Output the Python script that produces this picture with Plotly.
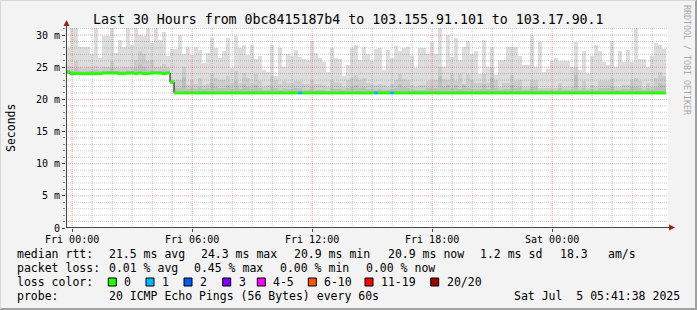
import plotly.graph_objects as go
import pandas as pd
import numpy as np

# ---------------- data ----------------
START = "2025-07-03 23:41:38"   # first 12-minute bin
BIN_MIN = 12

# upper edge of the outer (lightest) smoke band, ms
SMOKE_TOP = [
    28.0, 31.1, 31.1, 28.2, 28.2, 28.2, 27.0, 31.1, 26.5, 29.9,
    29.9, 31.2, 27.2, 29.3, 28.1, 31.1, 28.5, 31.1, 30.0, 29.8,
    31.1, 28.7, 31.1, 29.3, 30.5, 26.7, 27.9, 27.8, 30.0, 27.0,
    28.2, 26.9, 28.1, 27.7, 25.6, 27.2, 29.5, 28.0,
    26.4, 27.5, 29.6, 24.9, 29.8, 28.0, 28.4, 26.9, 28.5, 26.3,
    26.8, 24.6, 24.3, 28.5, 23.6, 28.0, 25.0, 27.0, 26.8, 27.7,
    26.6, 26.3, 26.0, 29.1, 27.2, 26.4, 25.8, 24.3, 28.0, 26.4,
    26.3, 23.6, 25.4, 28.0, 28.4, 26.2, 28.2,
    27.0, 26.0, 27.9, 28.0, 24.6, 27.7, 26.4, 28.3, 27.6, 28.0,
    28.1, 26.8, 24.9, 28.0, 28.0, 27.0, 28.9, 27.0, 31.1, 25.0,
    30.0, 26.6, 29.5, 26.2, 28.2, 29.1, 27.0, 27.6, 23.9, 29.3,
    25.0, 28.2, 23.8, 26.2, 26.2, 28.2, 28.2,
    28.2, 26.7, 25.3, 25.4, 29.8, 25.0, 29.0, 24.2, 24.8, 26.0,
    26.5, 26.0, 26.0, 26.0, 25.0, 28.9, 24.6, 27.5, 23.9, 26.8,
    28.4, 27.5, 25.8, 25.4, 29.1, 25.1, 27.5, 25.8, 27.7, 25.8,
    31.2, 26.3, 26.3, 25.1, 26.8, 28.8, 28.4, 27.9,
]
# upper edge of the middle smoke band, ms
SMOKE_MID = [
    25.2, 25.0, 26.0, 25.0, 24.9, 25.0, 25.0, 25.2, 24.9, 25.0,
    25.0, 26.0, 25.0, 24.9, 25.0, 25.1, 25.0, 26.2, 27.5, 27.0,
    26.0, 26.2, 25.0, 25.0, 25.5, 25.0, 23.0,
    23.0, 23.0, 25.1, 22.3, 23.0, 22.4, 23.3, 22.3, 22.4, 23.9, 23.3,
    23.0, 23.0, 23.7, 22.6, 24.4, 22.5, 24.1, 23.3, 22.5, 23.9,
    22.9, 22.0, 22.3, 23.6, 23.0, 22.4, 22.9, 22.5, 22.5, 22.9,
    22.9, 22.4, 22.4, 23.0, 22.4, 22.4, 22.3, 21.9, 23.0, 22.7,
    22.6, 22.0, 23.0, 23.3, 23.8, 23.0, 23.4,
    22.5, 22.4, 22.3, 22.4, 22.2, 22.0, 22.4, 23.0, 24.0, 23.2,
    23.0, 22.3, 22.0, 22.3, 22.3, 22.9, 23.0, 23.0, 25.0, 23.2,
    23.0, 23.9, 22.8, 23.9, 22.4, 23.9, 23.0, 22.6, 22.6, 24.0,
    22.6, 25.0, 23.0, 22.0, 22.6, 22.6, 23.8,
    22.8, 23.05, 22.0, 22.0, 23.0, 23.0, 21.8, 21.8, 21.8, 21.8,
    21.8, 22.5, 21.9, 21.9, 21.9, 25.1, 22.0, 22.9, 21.8, 22.3,
    22.0, 22.8, 22.8, 22.8, 23.3, 21.9, 21.9, 22.3, 22.3, 23.0,
    23.3, 22.8, 22.0, 22.5, 22.0, 23.3, 24.3, 23.6,
]
# upper edge of the inner (darkest) smoke band, ms
SMOKE_DARK = [
    24.5, 24.4, 24.9, 24.4, 24.4, 24.4, 24.4, 24.5, 24.4, 24.4,
    24.4, 24.9, 24.4, 24.4, 24.4, 24.4, 24.4, 24.9, 25.3, 25.0,
    24.6, 24.6, 24.4, 24.4, 24.6, 24.4, 22.8,
    21.8, 21.7, 23.5, 21.6, 21.8, 21.6, 22.0, 21.6, 21.7, 22.6, 22.0,
    21.8, 21.7, 22.2, 21.6, 22.8, 21.6, 22.4, 21.9, 21.6, 22.3,
    21.8, 21.4, 21.5, 22.0, 21.8, 21.5, 21.7, 21.6, 21.6, 21.8,
    21.7, 21.5, 21.5, 21.9, 21.5, 21.5, 21.5, 21.3, 21.8, 21.6,
    21.6, 21.4, 21.8, 22.0, 22.2, 21.8, 22.0,
    21.6, 21.6, 21.5, 21.6, 21.5, 21.4, 21.6, 21.8, 22.4, 21.9,
    21.8, 21.5, 21.4, 21.5, 21.5, 21.8, 21.8, 21.8, 23.6, 21.9,
    22.3, 21.7, 22.3, 21.6, 22.3, 21.8, 21.6, 21.6, 21.6, 22.4,
    21.6, 23.4, 21.8, 21.4, 21.6, 21.6, 22.2,
    21.8, 22.0, 21.5, 21.5, 22.0, 22.0, 21.4, 21.4, 21.4, 21.4,
    21.4, 21.7, 21.4, 21.4, 21.4, 23.8, 21.5, 21.8, 21.4, 21.6,
    21.5, 21.8, 21.8, 21.8, 22.0, 21.4, 21.4, 21.6, 21.6, 21.9,
    22.0, 21.8, 21.5, 21.7, 21.5, 22.0, 22.6, 22.2,
]
# lower edge of the smoke (fastest ping), ms
SMOKE_LOW = [23.9] * 26 + [22.4] + [20.8] * 123
# median rtt, ms
MEDIAN = [
    24.3, 24.0, 24.0, 24.0, 24.0, 24.0, 24.0, 24.0, 24.0, 24.1,
    24.1, 24.1, 24.1, 24.0, 24.0, 24.1, 24.1, 24.0, 24.1, 24.0,
    24.0, 24.1, 24.1, 24.1, 24.0, 24.1, 22.7,
] + [21.0] * 123
# lost pings per bin (of 20)
LOSS = [0] * 150
for _i in (58, 77, 81):
    LOSS[_i] = 1

Y_TICKS = [0, 5, 10, 15, 20, 25, 30]
Y_TICKTEXT = ["0", "5 m", "10 m", "15 m", "20 m", "25 m", "30 m"]
Y_MAX = 31.1

LOSS_LABELS = ["0", "1", "2", "3", "4-5", "6-10", "11-19", "20/20"]
LOSS_COLORS = ["#26ff00", "#00b8ff", "#0059ff", "#7e00ff", "#ff00ff",
               "#ff5500", "#ff0000", "#a10000"]

TITLE = "Last 30 Hours from 0bc8415187b4 to 103.155.91.101 to 103.17.90.1"
RTT_ROW = [("median rtt:", 16), ("21.5 ms avg", 107.5), ("24.3 ms max", 200),
           ("20.9 ms min", 293), ("20.9 ms now", 386.5), ("1.2 ms sd", 479),
           ("18.3", 559), ("am/s", 607)]
LOSS_ROW = [("packet loss:", 16), ("0.01 % avg", 107.5), ("0.45 % max", 193),
            ("0.00 % min", 279), ("0.00 % now", 365)]
PROBE_ROW = [("probe:", 16), ("20 ICMP Echo Pings (56 Bytes) every 60s", 107.5),
             ("Sat Jul  5 05:41:38 2025", 513)]

# ---------------- layout geometry ----------------
W, H = 697, 310
L, R, T, B = 66, 29, 28, 82
PW, PH = W - L - R, H - T - B
PB = T + PH


def px(x):
    return (x - L) / PW


def py(y):
    return (PB - y) / PH


MONO = "DejaVu Sans Mono"
NB = "\u00a0"

start = pd.Timestamp(START)
step = pd.Timedelta(minutes=BIN_MIN)
n = len(SMOKE_TOP)
edges = [start + step * i for i in range(n + 1)]
centers = [start + step * i + step / 2 for i in range(n)]
x0 = start
x1 = start + pd.Timedelta(minutes=3 * PW)

fig = go.Figure()

low = np.array(SMOKE_LOW)
for arr, col in ((SMOKE_TOP, "#dddddd"), (SMOKE_MID, "#cdcdcd"), (SMOKE_DARK, "#bfbfbf")):
    fig.add_trace(go.Bar(
        x=centers, y=np.array(arr) - low, base=low,
        width=BIN_MIN * 60 * 1000, marker=dict(color=col, line=dict(width=0)),
        hoverinfo="skip", showlegend=False))

# grid lines (drawn as scatter so they sit over the smoke, under the median)
hours = pd.date_range("2025-07-04 00:00", x1, freq="1h")
for major in (False, True):
    gx, gy = [], []
    for h in hours:
        if (h.hour % 6 == 0) == major:
            gx += [h, h, None]
            gy += [0, Y_MAX, None]
    for v in range(1, int(Y_MAX) + 1):
        if (v % 5 == 0) == major:
            gx += [x0, x1, None]
            gy += [v, v, None]
    fig.add_trace(go.Scatter(
        x=gx, y=gy, mode="lines", hoverinfo="skip", showlegend=False,
        line=dict(color="rgba(255,40,40,0.42)" if major else "rgba(0,0,0,0.2)",
                  width=1, dash="1px,1px")))

# median: black stepped line + loss-coloured horizontal pieces
fig.add_trace(go.Scatter(
    x=edges, y=MEDIAN + [MEDIAN[-1]], mode="lines", line=dict(color="#000000", width=1,
                                                              shape="hv"),
    hoverinfo="skip", showlegend=False))


def bucket(l):
    if l == 0:
        return 0
    if l <= 3:
        return l
    if l <= 5:
        return 4
    if l <= 10:
        return 5
    if l <= 19:
        return 6
    return 7


for b, col in enumerate(LOSS_COLORS):
    sx, sy = [], []
    for i in range(n):
        if bucket(LOSS[i]) == b:
            sx += [edges[i], edges[i + 1], None]
            sy += [MEDIAN[i], MEDIAN[i], None]
    if sx:
        fig.add_trace(go.Scatter(x=sx, y=sy, mode="lines",
                                 line=dict(color=col, width=3),
                                 hoverinfo="skip", showlegend=False))

shapes = []
AX = "#444444"
ARROW = "#9c2020"
# axes
shapes.append(dict(type="line", xref="paper", yref="paper", x0=px(66), x1=px(670),
                   y0=py(227.5), y1=py(227.5), line=dict(color=AX, width=1)))
shapes.append(dict(type="line", xref="paper", yref="paper", x0=px(66.5), x1=px(66.5),
                   y0=py(228), y1=py(24), line=dict(color=AX, width=1)))
# arrows
shapes.append(dict(type="path", xref="paper", yref="paper",
                   path=f"M {px(675)} {py(227.5)} L {px(669)} {py(224.5)} L {px(669)} {py(230.5)} Z",
                   fillcolor=ARROW, line=dict(width=0)))
shapes.append(dict(type="path", xref="paper", yref="paper",
                   path=f"M {px(66.5)} {py(20)} L {px(63.5)} {py(26)} L {px(69.5)} {py(26)} Z",
                   fillcolor=ARROW, line=dict(width=0)))
# frame
shapes.append(dict(type="line", xref="paper", yref="paper", x0=px(696), x1=px(696),
                   y0=py(0), y1=py(310), line=dict(color="#a0a0a0", width=2)))
shapes.append(dict(type="line", xref="paper", yref="paper", x0=px(0), x1=px(697),
                   y0=py(309), y1=py(309), line=dict(color="#a0a0a0", width=2)))
shapes.append(dict(type="line", xref="paper", yref="paper", x0=px(0), x1=px(696),
                   y0=py(0.5), y1=py(0.5), line=dict(color="#d8d8d8", width=1)))
shapes.append(dict(type="line", xref="paper", yref="paper", x0=px(0.5), x1=px(0.5),
                   y0=py(0), y1=py(309), line=dict(color="#d8d8d8", width=1)))

annotations = []


def ann(text, x, y, size=11.5, xanchor="left", color="#000000", **kw):
    annotations.append(dict(text=text.replace(" ", NB), x=px(x), y=py(y),
                            xref="paper", yref="paper", xanchor=xanchor,
                            yanchor="middle", showarrow=False,
                            font=dict(family=MONO, size=size, color=color), **kw))


ann(TITLE, 348, 19, size=13.25, xanchor="center")
ann("Seconds", 11, 128, size=11.5, xanchor="center", textangle=-90)
ann("RRDTOOL / TOBI OETIKER", 687, 60, size=8.3, xanchor="center",
    color="#a8a8a8", textangle=90)

for t, x in RTT_ROW:
    ann(t, x - 1, 254)
for t, x in LOSS_ROW:
    ann(t, x - 1, 268)
ann("loss color:", 15, 282)
box_x = [108.3, 146, 184, 222.7, 257.3, 308.3, 365, 430.7]
for lab, col, bx in zip(LOSS_LABELS, LOSS_COLORS, box_x):
    shapes.append(dict(type="rect", xref="paper", yref="paper",
                       x0=px(bx), x1=px(bx + 8), y0=py(278), y1=py(286),
                       fillcolor=col, line=dict(color="#000000", width=1)))
    ann(lab, bx + 14, 282)
for t, x in PROBE_ROW:
    ann(t, x - 1, 296)

fig.update_layout(
    width=W, height=H,
    margin=dict(l=L, r=R, t=T, b=B, pad=0),
    paper_bgcolor="#f3f3f3", plot_bgcolor="#ffffff",
    barmode="overlay", bargap=0,
    showlegend=False,
    shapes=shapes, annotations=annotations,
    xaxis=dict(type="date", range=[x0, x1], showgrid=False, zeroline=False,
               showline=False, tick0="2025-07-04 00:00", dtick=6 * 3600 * 1000,
               tickformat="%a %H:%M", ticks="outside", ticklen=3, tickcolor=AX,
               ticklabelstandoff=-1,
               tickfont=dict(family=MONO, size=10, color="#000000")),
    yaxis=dict(range=[0, Y_MAX], showgrid=False, zeroline=False, showline=False,
               tickvals=Y_TICKS, ticktext=Y_TICKTEXT, ticks="outside", ticklen=3,
               tickcolor=AX, tickfont=dict(family=MONO, size=10, color="#000000"),
               minor=dict(dtick=1, ticks="outside", ticklen=2, tickcolor="#888888",
                          showgrid=False)),
)

fig.write_html("out.html")
